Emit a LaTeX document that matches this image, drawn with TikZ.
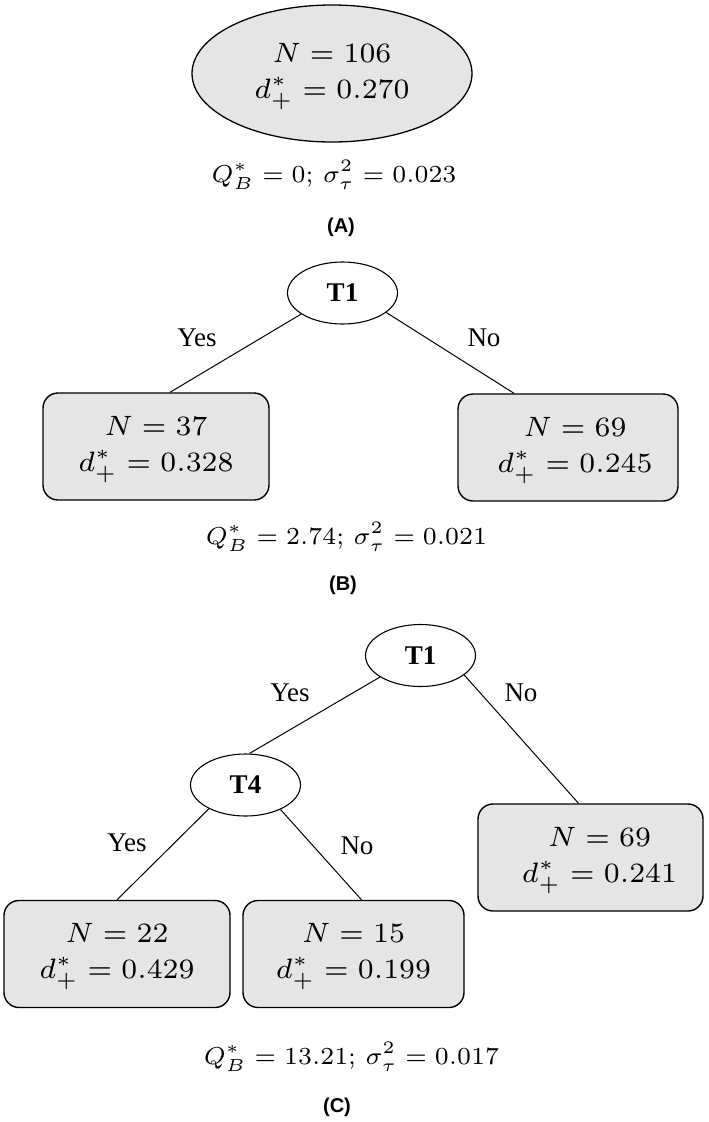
\documentclass[tikz,border=0pt]{standalone}
\usepackage{amsmath}
\usepackage{graphicx}
\usepackage{fontspec}
\usetikzlibrary{shapes.geometric}

\newfontfamily\timesfont{Liberation Serif}
\newfontfamily\arialfont{Liberation Sans}
% small type blown up, as in the original figure
\newcommand{\leafval}[2]{\scalebox{4}{\fontsize{7}{9}\selectfont
  \begin{tabular}{@{}c@{}}$N=#1$\\$d^*_+=#2$\end{tabular}}}
\newcommand{\statline}[2]{\scalebox{3.5}{\fontsize{7}{9}\selectfont
  $Q^*_B=#1$; $\sigma^2_\tau=#2$}}

\tikzset{
  leaf/.style={draw, rounded corners=15pt, fill=gray!20, line width=1.4pt,
    minimum height=107pt, inner sep=0pt, align=center},
  split/.style={ellipse, draw, line width=1.1pt, minimum width=110pt,
    minimum height=62pt, inner sep=0pt, font=\timesfont\bfseries\fontsize{27}{30}\selectfont},
  ans/.style={font=\timesfont\fontsize{27}{30}\selectfont},
  panel/.style={font=\arialfont\bfseries\fontsize{20}{22}\selectfont},
  edge/.style={line width=1pt}
}

\begin{document}
\begin{tikzpicture}[x=1pt, y=-1pt]
\useasboundingbox (0,0) rectangle (709,1122);

% (A) no split
\node[ellipse, draw, fill=gray!20, line width=1.3pt, minimum width=280pt,
  minimum height=137pt, inner sep=0pt] (a0) at (332,73.5) {\leafval{106}{0.270}};
\node (qa) at (334,175) {\statline{0}{0.023}};
\node[panel] (pa) at (341,227) {(A)};

% (B) one split
\node[split] (b1) at (342.5,293) {T1};
\node[leaf, minimum width=226pt] (b2) at (156,446.5) {\leafval{37}{0.328}};
\node[leaf, minimum width=220pt] (b3) at (568,447.5) {\hspace*{14pt}\leafval{69}{0.245}};
\draw[edge] (b1.207) -- ([xshift=14pt]b2.north);
\draw[edge] (b1.-24) -- ([xshift=-54pt]b3.north);
\node[ans] (yb) at (197,338) {Yes};
\node[ans] (nb) at (484,338) {No};
\node (qb) at (346.5,537) {\statline{2.74}{0.021}};
\node[panel] (pb) at (343,585) {(B)};

% (C) two splits
\node[split] (c1) at (420.5,655.5) {T1};
\node[split] (c2) at (245.5,785) {T4};
\node[leaf, minimum width=225pt] (c3) at (590.5,857.5) {\hspace*{18pt}\leafval{69}{0.241}};
\node[leaf, minimum width=226pt] (c4) at (117,954) {\leafval{22}{0.429}};
\node[leaf, minimum width=221pt] (c5) at (353.5,954) {\leafval{15}{0.199}};
\draw[edge] (c1.208) -- ([xshift=4pt]c2.north);
\draw[edge] (c1.-24) -- ([xshift=-12pt]c3.north);
\draw[edge] (c2.213) -- (c4.north);
\draw[edge] (c2.-35) -- ([xshift=8pt]c5.north);
\node[ans] (yc1) at (290,693) {Yes};
\node[ans] (nc1) at (521,693) {No};
\node[ans] (yc2) at (127,843) {Yes};
\node[ans] (nc2) at (357,846) {No};
\node (qc) at (351.5,1057) {\statline{13.21}{0.017}};
\node[panel] (pc) at (337,1107) {(C)};
\end{tikzpicture}
\end{document}
